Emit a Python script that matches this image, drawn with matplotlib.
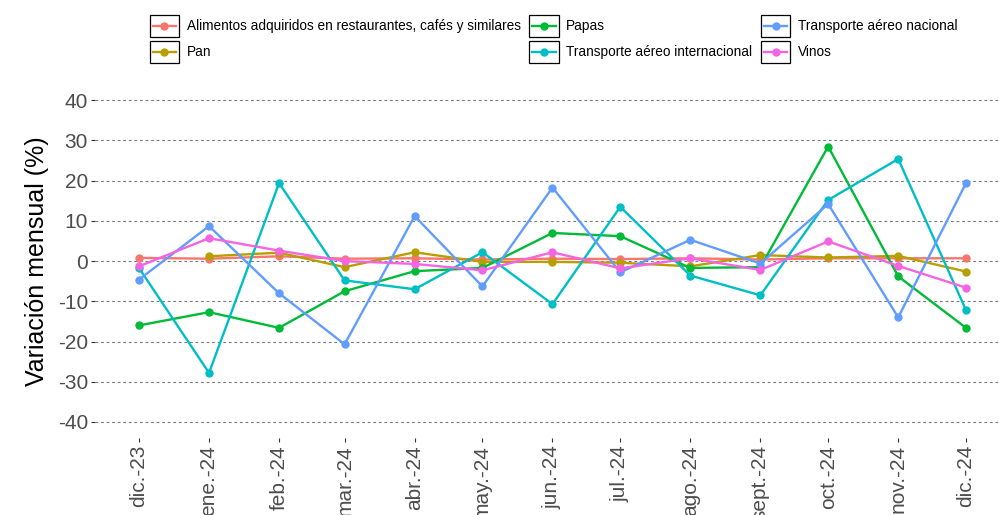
import matplotlib
matplotlib.use("Agg")
import matplotlib.pyplot as plt
from matplotlib.legend_handler import HandlerBase
from matplotlib.patches import Rectangle
from matplotlib.lines import Line2D
import pandas as pd

plt.rcParams['font.family'] = ['Liberation Sans', 'DejaVu Sans']

months = pd.date_range('2023-12-01', periods=13, freq='MS')
month_labels = ['dic.-23', 'ene.-24', 'feb.-24', 'mar.-24', 'abr.-24', 'may.-24',
                'jun.-24', 'jul.-24', 'ago.-24', 'sept.-24', 'oct.-24', 'nov.-24', 'dic.-24']

alimentos = [0.8, 0.6, 1.2, 0.6, 0.7, 0.4, 0.6, 0.5, 0.7, 0.4, 0.7, 0.7, 0.7]
pan = [None, 1.2, 2.1, -1.5, 2.2, -0.2, -0.2, -0.4, -1.3, 1.5, 0.9, 1.3, -2.6]
papas = [-16.0, -12.7, -16.6, -7.5, -2.5, -1.7, 7.0, 6.2, -1.7, -1.5, 28.5, -3.8, -16.6]
t_internacional = [-1.7, -27.8, 19.4, -4.8, -7.0, 2.2, -10.7, 13.5, -3.6, -8.5, 15.2, 25.4, -12.2]
t_nacional = [-4.6, 8.7, -8.0, -20.7, 11.2, -6.3, 18.3, -2.8, 5.3, -0.6, 14.2, -14.0, 19.4]
vinos = [-1.3, 5.7, 2.6, 0.0, -0.7, -2.3, 2.2, -1.8, 0.7, -2.2, 4.9, -1.2, -6.6]

series_names = ['Alimentos adquiridos en restaurantes, cafés y similares', 'Pan', 'Papas',
                'Transporte aéreo internacional', 'Transporte aéreo nacional', 'Vinos']
series_values = [alimentos, pan, papas, t_internacional, t_nacional, vinos]
colors = ['#F8766D', '#B79F00', '#00BA38', '#00BFC4', '#619CFF', '#F564E3']

y_ticks = [-40, -30, -20, -10, 0, 10, 20, 30, 40]

fig = plt.figure(figsize=(9.99, 5.15), dpi=100)
ax = fig.add_axes([0.095, 0.1495, 0.905, 0.687])

handles = []
for name, vals, c in zip(series_names, series_values, colors):
    xs = [m for m, v in zip(months, vals) if v is not None]
    ys = [v for v in vals if v is not None]
    h, = ax.plot(xs, ys, color=c, lw=1.7, marker='o', ms=5, label=name, zorder=3)
    handles.append(h)

ax.set_ylim(-44, 44)
ax.set_xlim(months[0] - pd.Timedelta(days=19.5), months[-1] + pd.Timedelta(days=14.6))
ax.set_yticks(y_ticks)
ax.set_yticklabels([str(t) for t in y_ticks])
ax.set_xticks(months)
ax.set_xticklabels(month_labels, rotation=90, va='top', ha='center')

for s in ax.spines.values():
    s.set_visible(False)
ax.grid(axis='y', color='#7a7a7a', lw=0.8, linestyle=(0, (2.5, 2.5)))
ax.grid(axis='x', visible=False)
ax.set_axisbelow(True)
ax.tick_params(axis='both', colors='#333333', labelcolor='#4D4D4D', labelsize=15,
               length=3, width=0.8, pad=2)
ax.set_ylabel('Variación mensual (%)', fontsize=18, color='black', labelpad=6)


class BoxHandler(HandlerBase):
    def create_artists(self, legend, orig_handle, xdescent, ydescent, width, height,
                       fontsize, trans):
        rect = Rectangle((-xdescent, -ydescent), width, height, facecolor='white',
                         edgecolor='black', lw=0.9, transform=trans)
        y = -ydescent + height / 2
        line = Line2D([-xdescent + 0.1 * width, -xdescent + 0.9 * width], [y, y],
                      color=orig_handle.get_color(), lw=1.7, transform=trans)
        mk = Line2D([-xdescent + width / 2], [y], marker='o', ms=5, ls='none',
                    color=orig_handle.get_color(), transform=trans)
        return [rect, line, mk]


leg = fig.legend(handles=handles, labels=series_names, ncol=3,
                 loc='upper left', bbox_to_anchor=(0.150, 1 - 15 / 515),
                 frameon=False, fontsize=9.8, handlelength=2.15, handleheight=2.1,
                 handletextpad=0.55, columnspacing=0.65, labelspacing=0.3,
                 borderpad=0, borderaxespad=0,
                 handler_map={Line2D: BoxHandler()})

fig.savefig('out.png', dpi=100)
